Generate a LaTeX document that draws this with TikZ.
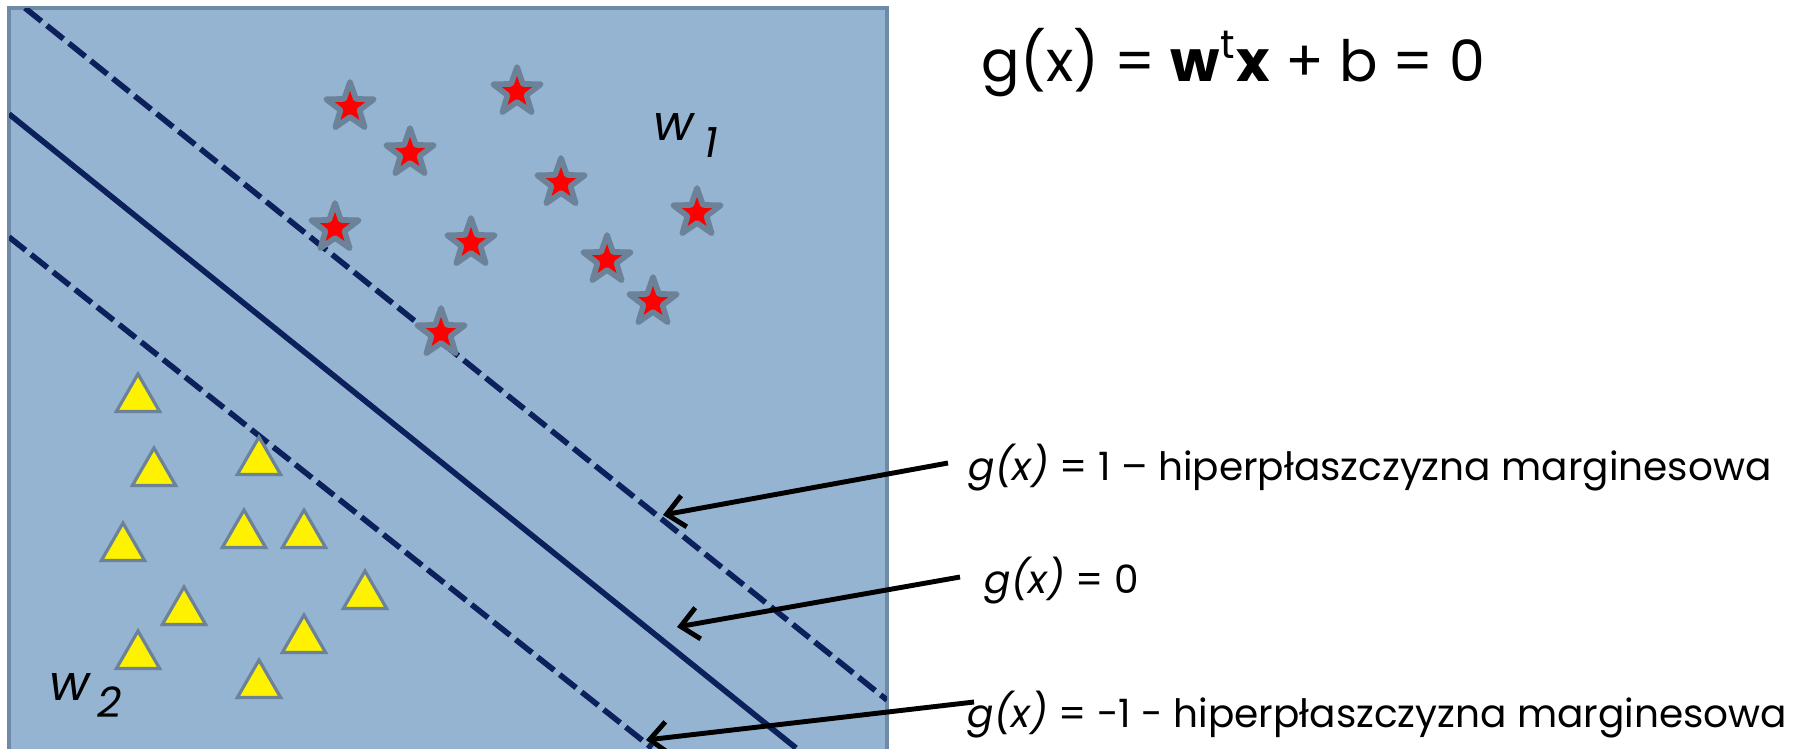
\documentclass[tikz,border=0pt]{standalone}
\usepackage{fontspec}
\setmainfont{Poppins}
\usepackage{tikz}
\usetikzlibrary{arrows.meta}
\usetikzlibrary{shapes.geometric}
\usetikzlibrary{positioning}

\definecolor{panelblue}{RGB}{148,180,210}
\definecolor{panelrim}{RGB}{110,138,166}
\definecolor{hypnavy}{RGB}{12,32,92}
\definecolor{markrim}{RGB}{108,130,153}

\begin{document}
\begin{tikzpicture}[
  x=0.01cm, y=-0.01cm,
  redstar/.style={star,star points=5,star point ratio=2.5,draw=markrim,line width=1.6pt,
    line join=round,fill=red,minimum size=0.5cm,inner sep=0pt},
  yeltri/.style={regular polygon,regular polygon sides=3,draw=markrim,line width=0.9pt,
    fill=yellow,minimum size=0.5cm,inner sep=0pt},
  margin/.style={hypnavy,line width=1.6pt,dash pattern=on 6pt off 2pt},
  divider/.style={hypnavy,line width=1.6pt},
  pointer/.style={-{Straight Barb[length=5pt,width=9pt]},line width=1.4pt},
  lbl/.style={anchor=base west,inner sep=0pt,font=\fontsize{11.1}{13}\selectfont}
]
\useasboundingbox (0,0) rectangle (1795,748);
\fill[white] (0,0) rectangle (1795,748);

% feature space
\begin{scope}
  \clip (0,0) rectangle (1795,748);
  \draw[panelrim,fill=panelblue,line width=1pt] (9,8) rectangle (887,800);
  \clip (9,8) rectangle (887,800);
  \draw[margin]  (25,8)  -- (887,700);
  \draw[divider] (9,114) -- (796,748);
  \draw[margin]  (9,237) -- (652,748);
\end{scope}

% class w1
\node[redstar] (s1)  at (350,107) {};
\node[redstar] (s2)  at (517,92)  {};
\node[redstar] (s3)  at (410,153) {};
\node[redstar] (s4)  at (561,183) {};
\node[redstar] (s5)  at (697,213) {};
\node[redstar] (s6)  at (335,228) {};
\node[redstar] (s7)  at (471,243) {};
\node[redstar] (s8)  at (607,260) {};
\node[redstar] (s9)  at (653,302) {};
\node[redstar] (s10) at (441,333) {};

% class w2
\node[yeltri] (t1)  at (138,399) {};
\node[yeltri] (t2)  at (154,473) {};
\node[yeltri] (t3)  at (259,462) {};
\node[yeltri] (t4)  at (123,548) {};
\node[yeltri] (t5)  at (244,535) {};
\node[yeltri] (t6)  at (304,535) {};
\node[yeltri] (t7)  at (184,612) {};
\node[yeltri] (t8)  at (365,596) {};
\node[yeltri] (t9)  at (304,640) {};
\node[yeltri] (t10) at (138,656) {};
\node[yeltri] (t11) at (259,685) {};

\node[anchor=base west,inner sep=0pt] (w1) at (653,140)
  {\fontsize{14}{14}\selectfont\itshape w\hspace{3pt}\raisebox{-5pt}{\fontsize{12}{12}\selectfont 1}};
\node[anchor=base west,inner sep=0pt] (w2) at (49,700)
  {\fontsize{14}{14}\selectfont\itshape w\hspace{2pt}\raisebox{-5pt}{\fontsize{12}{12}\selectfont 2}};

% equation and labels
\node[anchor=base west,inner sep=0pt,font=\fontsize{16.2}{19}\selectfont] (eq) at (981,81)
  {g(x) = \textbf{w}\textsuperscript{t}\textbf{x} + b = 0};
\node[lbl] (l1) at (968,480) {\textit{g(x)} = 1 – hiperpłaszczyzna marginesowa};
\node[lbl] (l2) at (984,593) {\textit{g(x)} = 0};
\node[lbl] (l3) at (967,727) {\textit{g(x)} = -1 - hiperpłaszczyzna marginesowa};

\coordinate (a1) at (948,463);
\coordinate (a2) at (960,577);
\coordinate (a3) at (974,702);
\coordinate (h1) at (663,515);
\coordinate (h2) at (677,627);
\coordinate (h3) at (646,740);
\draw[pointer] (a1) -- (h1);
\draw[pointer] (a2) -- (h2);
\draw[pointer] (a3) -- (h3);
\end{tikzpicture}
\end{document}
